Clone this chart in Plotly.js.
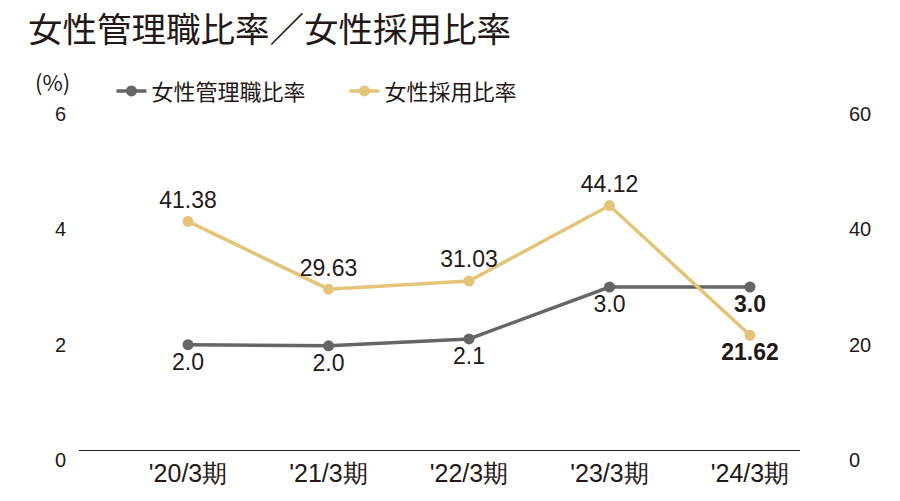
<!DOCTYPE html>
<html>
<head>
<meta charset="utf-8">
<script src="https://cdn.plot.ly/plotly-3.0.1.min.js"></script>
<style>
html,body{margin:0;padding:0;background:#fff;}
#chart{width:900px;height:501px;}
</style>
</head>
<body>
<div id="chart"></div>
<script>
const categories = ["'20/3期", "'21/3期", "'22/3期", "'23/3期", "'24/3期"];
const managerRatio = [2.0, 1.98, 2.1, 3.0, 3.0];
const hiringRatio = [41.38, 29.63, 31.03, 44.12, 21.62];
const leftTicks = [0, 2, 4, 6];
const rightTicks = [0, 20, 40, 60];
const seriesNames = ["女性管理職比率", "女性採用比率"];

const cjk = "'Noto Sans CJK JP', 'Noto Sans', sans-serif";
const num = "'Liberation Sans', Arial, sans-serif";
const ink = "#231815";
const grey = "#666666";
const gold = "#E3C479";

const last = categories.length - 1;
const mgrText = managerRatio.map((v, i) => i === last ? "<b>" + v.toFixed(1) + "</b>" : v.toFixed(1));
const hirText = hiringRatio.map((v, i) => i === last ? "<b>" + v.toFixed(2) + "</b>" : v.toFixed(2));
const hirPos = hiringRatio.map((v, i) => i === last ? "bottom center" : "top center");

const traces = [
  {
    x: categories, y: managerRatio, name: seriesNames[0], type: "scatter",
    mode: "lines+markers+text", yaxis: "y",
    line: {color: grey, width: 3.5}, marker: {color: grey, size: 11},
    text: mgrText, textposition: "bottom center",
    textfont: {family: num, size: 23, color: ink},
    cliponaxis: false, hoverinfo: "skip"
  },
  {
    x: categories, y: hiringRatio, name: seriesNames[1], type: "scatter",
    mode: "lines+markers+text", yaxis: "y2",
    line: {color: gold, width: 3.5}, marker: {color: gold, size: 11},
    text: hirText, textposition: hirPos,
    textfont: {family: num, size: 23, color: ink},
    cliponaxis: false, hoverinfo: "skip"
  }
];

const layout = {
  width: 900, height: 501,
  margin: {l: 79, r: 100, t: 114, b: 41},
  paper_bgcolor: "#fff", plot_bgcolor: "#fff",
  showlegend: true,
  title: {
    text: "女性管理職比率／女性採用比率",
    font: {family: cjk, size: 34.5, color: ink},
    x: 28 / 900, xref: "container", xanchor: "left", y: 0.94, yref: "container", yanchor: "middle"
  },
  legend: {
    orientation: "h", x: 0.045, xanchor: "left", y: 1.066, yanchor: "middle",
    font: {family: cjk, size: 22, color: ink},
    itemwidth: 30, entrywidth: 188, entrywidthmode: "pixels",
    tracegroupgap: 0, bgcolor: "rgba(0,0,0,0)"
  },
  xaxis: {
    type: "category", range: [-0.776, 4.356],
    anchor: "free", position: 10 / 346,
    showgrid: false, zeroline: false, showline: true, linecolor: ink, linewidth: 1.2,
    ticks: "", tickfont: {family: "'Liberation Sans Narrow', " + num, size: 25, color: ink},
    ticklabelstandoff: 1, fixedrange: true
  },
  yaxis: {
    range: [0, 6], tickvals: leftTicks, showgrid: false, zeroline: false, showline: false,
    ticks: "", tickfont: {family: num, size: 20, color: ink}, ticklabelstandoff: 12,
    fixedrange: true
  },
  yaxis2: {
    range: [0, 60], tickvals: rightTicks, overlaying: "y", side: "right",
    showgrid: false, zeroline: false, showline: false,
    ticks: "", tickfont: {family: num, size: 20, color: ink}, ticklabelstandoff: 48,
    fixedrange: true
  },
  annotations: [
    {text: "(%)", xref: "paper", yref: "paper", x: -0.0638, y: 1.095, xanchor: "left", yanchor: "middle",
     showarrow: false, font: {family: cjk, size: 22, color: ink}}
  ]
};

Plotly.newPlot("chart", traces, layout, {displayModeBar: false, staticPlot: true});
</script>
</body>
</html>
